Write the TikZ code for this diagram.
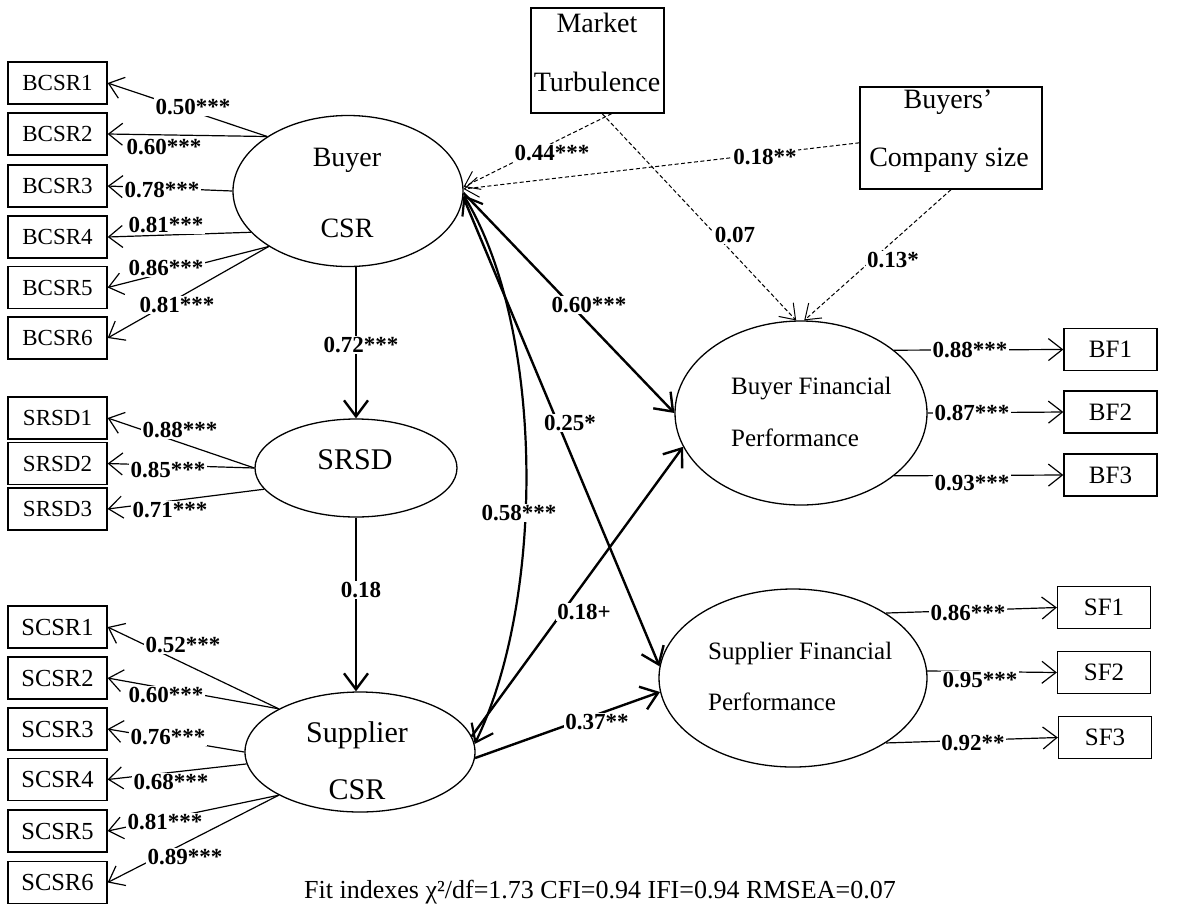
\documentclass[tikz,border=0pt]{standalone}
\usepackage{fontspec}
\setmainfont{Liberation Serif}
\usetikzlibrary{shapes.geometric,arrows.meta}
\begin{document}
\begin{tikzpicture}[x=1pt,y=-1pt,
  box/.style={draw, line width=1.3pt, minimum width=99pt, minimum height=42pt, inner sep=0pt, font=\fontsize{23}{27}\selectfont},
  sbox/.style={box, font=\fontsize{24.5}{28}\selectfont},
  rbox/.style={draw, line width=1.3pt, minimum width=93pt, minimum height=42pt, inner sep=0pt, font=\fontsize{25}{29}\selectfont},
  cbox/.style={draw, line width=1.3pt, inner sep=0pt},
  lat/.style={draw, ellipse, line width=1.3pt, inner sep=0pt},
  ltxt/.style={inner sep=0pt, font=\fontsize{28}{32}\selectfont},
  ftxt/.style={inner sep=0pt, anchor=west, font=\fontsize{25}{29}\selectfont},
  thinarr/.style={line width=1.2pt, -{Straight Barb[length=14pt,width=22pt]}},
  boldarr/.style={line width=2.4pt, -{Straight Barb[length=16pt,width=24pt]}},
  boldboth/.style={line width=2.2pt, {Straight Barb[length=16pt,width=24pt]}-{Straight Barb[length=16pt,width=24pt]}},
  dasharr/.style={line width=1pt, dash pattern=on 4pt off 2.5pt, -{Straight Barb[length=14pt,width=20pt]}},
  lab/.style={font=\bfseries\fontsize{23}{27}\selectfont, fill=white, inner sep=1.5pt},
]
\useasboundingbox (0,0) rectangle (1192,906);

% indicator boxes, left
\node[box] (bcsr1) at (57.5,83) {BCSR1};
\node[box] (bcsr2) at (57.5,134) {BCSR2};
\node[box] (bcsr3) at (57.5,186) {BCSR3};
\node[box] (bcsr4) at (57.5,237) {BCSR4};
\node[box] (bcsr5) at (57.5,287.5) {BCSR5};
\node[box] (bcsr6) at (57.5,338) {BCSR6};
\node[box] (srsd1) at (57.5,418) {SRSD1};
\node[box] (srsd2) at (57.5,463.5) {SRSD2};
\node[box] (srsd3) at (57.5,509) {SRSD3};
\node[sbox] (scsr1) at (57.5,627) {SCSR1};
\node[sbox] (scsr2) at (57.5,678) {SCSR2};
\node[sbox] (scsr3) at (57.5,729) {SCSR3};
\node[sbox] (scsr4) at (57.5,779.5) {SCSR4};
\node[sbox] (scsr5) at (57.5,831) {SCSR5};
\node[sbox] (scsr6) at (57.5,882.5) {SCSR6};

% indicator boxes, right
\node[rbox] (bf1) at (1110.5,349.5) {BF1};
\node[rbox] (bf2) at (1110.5,412) {BF2};
\node[rbox] (bf3) at (1110.5,475) {BF3};
\node[rbox] (sf1) at (1104,607.5) {SF1};
\node[rbox] (sf2) at (1104,672.5) {SF2};
\node[rbox] (sf3) at (1105,737.5) {SF3};

% control boxes
\node[cbox, minimum width=133pt, minimum height=105pt] (mt) at (597.5,60.5) {};
\node[ltxt] (mt1) at (597,23) {Market};
\node[ltxt] (mt2) at (597,82) {Turbulence};
\node[cbox, minimum width=182pt, minimum height=102pt] (bcs) at (951,138) {};
\node[ltxt] (bcs1) at (948,102) {Buyers’};
\node[ltxt] (bcs2) at (949,160) {Company size};

% latent variables
\node[lat, minimum width=230pt, minimum height=151pt] (buyer) at (348,191) {};
\node[ltxt] (buyer1) at (347,160) {Buyer};
\node[ltxt] (buyer2) at (347,228) {CSR};
\node[lat, minimum width=202pt, minimum height=98pt] (srsd) at (356,468) {};
\node[ltxt, font=\fontsize{30}{34}\selectfont] (srsdt) at (355,460) {SRSD};
\node[lat, minimum width=230pt, minimum height=120pt] (supplier) at (360,752) {};
\node[ltxt, font=\fontsize{30}{34}\selectfont] (supplier1) at (357,735) {Supplier};
\node[ltxt, font=\fontsize{30}{34}\selectfont] (supplier2) at (357,790) {CSR};
\node[lat, minimum width=252pt, minimum height=184pt] (bfp) at (801,413) {};
\node[ftxt] (bfp1) at (731,389) {Buyer Financial};
\node[ftxt] (bfp2) at (731,438) {Performance};
\node[lat, minimum width=268pt, minimum height=178pt] (sfp) at (793,678) {};
\node[ftxt] (sfp1) at (708,653) {Supplier Financial};
\node[ftxt] (sfp2) at (708,702) {Performance};

% loadings buyer CSR
\draw[thinarr] (buyer.146) -- (bcsr1.east);
\draw[thinarr] (buyer.146) -- (bcsr2.east);
\draw[thinarr] (buyer.180) -- (bcsr3.east);
\draw[thinarr] (buyer.203) -- (bcsr4.east);
\draw[thinarr] (buyer.215) -- (bcsr5.east);
\draw[thinarr] (buyer.215) -- (bcsr6.east);
% loadings SRSD
\draw[thinarr] (srsd.180) -- (srsd1.east);
\draw[thinarr] (srsd.180) -- (srsd2.east);
\draw[thinarr] (srsd.193) -- (srsd3.east);
% loadings supplier CSR
\draw[thinarr] (supplier.152) -- (scsr1.east);
\draw[thinarr] (supplier.152) -- (scsr2.east);
\draw[thinarr] (supplier.180) -- (scsr3.east);
\draw[thinarr] (supplier.186) -- (scsr4.east);
\draw[thinarr] (supplier.208) -- (scsr5.east);
\draw[thinarr] (supplier.208) -- (scsr6.east);
% loadings right
\draw[thinarr] (bfp.34) -- (bf1.west);
\draw[thinarr] (bfp.0) -- (bf2.west);
\draw[thinarr] (bfp.-34) -- (bf3.west);
\draw[thinarr] (sfp.35) -- (sf1.west);
\draw[thinarr] (sfp.3) -- (sf2.west);
\draw[thinarr] (sfp.-35) -- (sf3.west);

% structural paths
\draw[boldarr] (buyer.south -| srsd.north) -- (srsd.north);
\draw[boldarr] (srsd.south) -- (srsd.south |- supplier.north);
\draw[boldarr] (buyer.-1) -- (bfp.180);
\draw[boldarr] (buyer.-3) -- (sfp.175);
\draw[boldboth] (buyer.-2) .. controls (545,330) and (545,600) .. (supplier.4);
\draw[boldarr] (supplier.8) -- (bfp.196);
\draw[boldarr] (supplier.-3) -- (sfp.186);

% control paths
\draw[dasharr] (mt.-75) -- (buyer.2);
\draw[dasharr] (mt.-85) -- (bfp.93);
\draw[dasharr] (bcs.183) -- (buyer.1);
\draw[dasharr] (bcs.south) -- (bfp.88);

% labels
\node[lab] (l1) at (193,107) {0.50***};
\node[lab] (l2) at (164,147) {0.60***};
\node[lab] (l3) at (162,190) {0.78***};
\node[lab] (l4) at (166,225) {0.81***};
\node[lab] (l5) at (166,268) {0.86***};
\node[lab] (l6) at (177,305) {0.81***};
\node[lab] (l7) at (180,430) {0.88***};
\node[lab] (l8) at (168,470) {0.85***};
\node[lab] (l9) at (170,510) {0.71***};
\node[lab] (l10) at (183,645) {0.52***};
\node[lab] (l11) at (166,695) {0.60***};
\node[lab] (l12) at (168,737) {0.76***};
\node[lab] (l13) at (171,782) {0.68***};
\node[lab] (l14) at (165,822) {0.81***};
\node[lab] (l15) at (185,857) {0.89***};
\node[lab] (l16) at (361,345) {0.72***};
\node[lab] (l17) at (361,590) {0.18};
\node[lab] (l18) at (589,305) {0.60***};
\node[lab] (l19) at (570,423) {0.25*};
\node[lab] (l20) at (519,513) {0.58***};
\node[lab] (l21) at (584,612) {0.18+};
\node[lab] (l22) at (597,722) {0.37**};
\node[lab] (l23) at (552,153) {0.44***};
\node[lab] (l24) at (735,235) {0.07};
\node[lab] (l25) at (765,157) {0.18**};
\node[lab] (l26) at (893,260) {0.13*};
\node[lab] (l27) at (970,350) {0.88***};
\node[lab] (l28) at (972,413) {0.87***};
\node[lab] (l29) at (972,483) {0.93***};
\node[lab] (l30) at (968,613) {0.86***};
\node[lab] (l31) at (980,680) {0.95***};
\node[lab] (l32) at (973,743) {0.92**};

% fit indexes
\node[inner sep=0pt, anchor=base, font=\fontsize{26}{30}\selectfont] (fit) at (600,898) {Fit indexes χ²/df=1.73 CFI=0.94 IFI=0.94 RMSEA=0.07};
\end{tikzpicture}
\end{document}
